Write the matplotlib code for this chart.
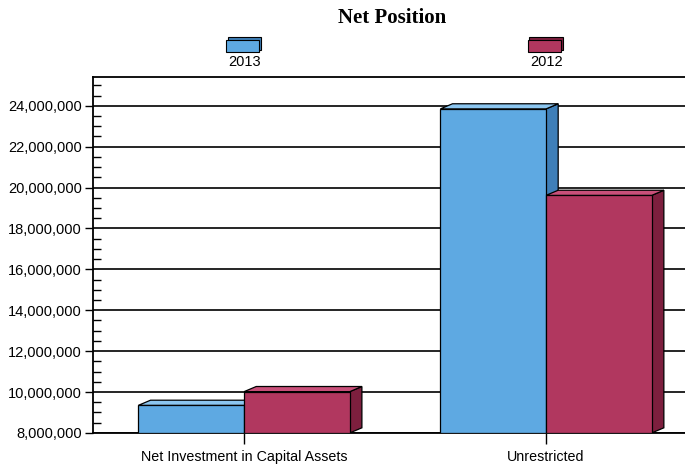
import numpy as np
import matplotlib.pyplot as plt
from matplotlib.patches import Polygon, Rectangle
from matplotlib.ticker import MultipleLocator, FuncFormatter
import matplotlib.transforms as mtransforms

# data
categories = ['Net Investment in Capital Assets', 'Unrestricted']
years = ['2013', '2012']
values_2013 = [9350000, 23850000]
values_2012 = [10020000, 19620000]

face = ['#5ea9e2', '#b1375f']
side = ['#3f7fb8', '#7d1f3e']
top = ['#8cc6f0', '#c9507a']

ymin, ymax = 8000000, 25400000
width = 0.35
dx, dy = 0.04, 250000  # fake 3d depth

plt.rcParams['font.family'] = ['Liberation Sans', 'DejaVu Sans']
fig = plt.figure(figsize=(6.85, 4.65), dpi=100)
ax = fig.add_axes([0.136, 0.069, 0.864, 0.765])

x = np.arange(len(categories))
for i, vals in enumerate([values_2013, values_2012]):
    xs = x + (i - 0.5) * width
    ax.bar(xs, [v - ymin for v in vals], width=width, bottom=ymin,
           color=face[i], edgecolor='black', linewidth=0.9, zorder=3)
    for xc, v in zip(xs, vals):
        x0, x1 = xc - width / 2, xc + width / 2
        ax.add_patch(Polygon([(x0, v), (x1, v), (x1 + dx, v + dy), (x0 + dx, v + dy)],
                             closed=True, fc=top[i], ec='black', lw=0.9, zorder=3))
        ax.add_patch(Polygon([(x1, ymin), (x1, v), (x1 + dx, v + dy), (x1 + dx, ymin + dy)],
                             closed=True, fc=side[i], ec='black', lw=0.9, zorder=2.9))

ax.set_xlim(-0.5, 1.46)
ax.set_ylim(ymin, ymax)
ax.set_xticks(x)
ax.set_xticklabels(categories, fontsize=10.3)
ax.tick_params(axis='x', length=8, width=1, pad=4)

ax.yaxis.set_major_locator(MultipleLocator(2000000))
ax.yaxis.set_minor_locator(MultipleLocator(500000))
ax.yaxis.set_major_formatter(FuncFormatter(lambda v, p: f'{int(v):,}'))
ax.tick_params(axis='y', which='major', direction='out', length=6, width=1, labelsize=10.5, pad=2)
ax.tick_params(axis='y', which='minor', direction='in', length=6, width=1)
ax.grid(axis='y', which='major', color='black', linewidth=1.2, zorder=0)
ax.set_axisbelow(True)

ax.spines['right'].set_visible(False)
for s in ['left', 'top', 'bottom']:
    ax.spines[s].set_linewidth(1.3)

# legend above category centres
trans = mtransforms.blended_transform_factory(ax.transData, ax.transAxes)
for i, yr in enumerate(years):
    ax.add_patch(Rectangle((x[i] - 0.055, 1.077), 0.11, 0.035, transform=trans,
                           fc=side[i], ec='black', lw=0.8, clip_on=False))
    ax.add_patch(Rectangle((x[i] - 0.06, 1.07), 0.11, 0.035, transform=trans,
                           fc=face[i], ec='black', lw=0.8, clip_on=False))
    ax.text(x[i], 1.062, yr, transform=trans, ha='center', va='top', fontsize=10.5)

fig.text(0.572, 0.962, 'Net Position', ha='center', va='center', fontsize=15,
         fontweight='bold', family='Liberation Serif')

fig.savefig('out.png', dpi=100)
